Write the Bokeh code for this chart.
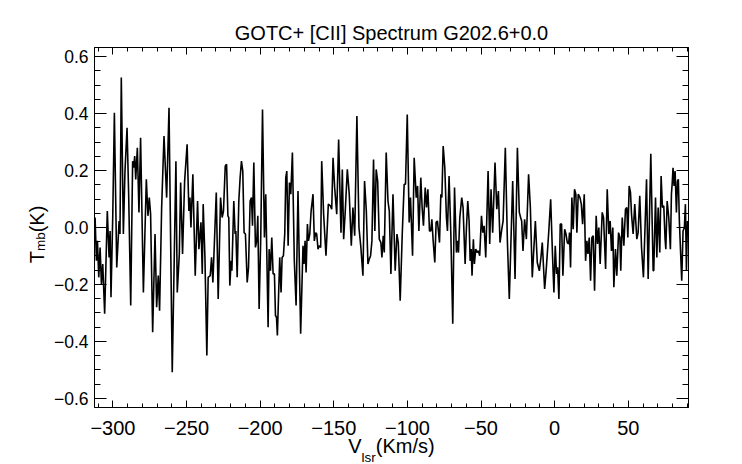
import numpy as np
from bokeh.plotting import figure
from bokeh.models import FixedTicker, Range1d, LinearAxis
from bokeh.embed import file_html
from bokeh.resources import INLINE

# ---- data ----
velocity = [
    -312.1, -311.2, -310.5, -309.6, -308.7, -307.8, -306.9, -305.6, -303.8, -302.6,
    -301.9, -301.3, -300.1, -299.0, -297.4, -295.8, -295.2, -294.3, -292.9, -291.8,
    -290.4, -289.3, -287.9, -286.6, -285.9, -285.2, -284.5, -283.4, -282.3, -281.2,
    -279.3, -277.3, -276.2, -275.3, -274.4, -273.0, -271.4, -270.3, -269.2, -268.3,
    -266.9, -265.3, -263.5, -261.9, -259.7, -257.2, -256.3, -254.9, -254.0, -252.7,
    -251.3, -249.6,
    -248.4, -247.7, -247.0, -245.7, -244.1, -242.5, -241.6, -240.2, -239.3, -238.7,
    -237.5, -236.2, -235.3, -233.9, -233.0, -232.1, -229.8, -228.5, -226.9, -225.8,
    -224.9, -223.7, -222.8, -221.9, -221.3, -220.6, -219.7, -219.2, -217.9, -217.0,
    -216.5, -215.6, -214.5, -213.6, -212.7, -211.8, -210.9, -210.0, -208.8, -207.9,
    -206.8, -205.9, -205.2,
    -204.3, -203.2, -202.3, -201.6, -200.7, -199.6, -198.4, -197.1, -196.2, -194.6,
    -193.9, -193.0, -192.1, -191.2, -190.3, -189.6, -188.9, -188.3, -187.4, -186.7,
    -185.8, -185.1, -184.2, -183.3, -182.6, -181.9, -181.0, -180.1, -179.2, -178.1,
    -176.8, -175.6, -174.3, -172.5, -170.9, -170.2, -169.5, -168.8, -167.9, -167.2,
    -166.3, -165.4, -164.1, -163.2, -162.3, -161.6, -160.7, -160.0, -158.9, -158.2,
    -156.9, -155.3, -153.7, -152.3, -151.4, -150.5, -149.4, -148.0, -146.7, -145.1,
    -144.2, -143.3, -142.2, -140.8, -139.5, -138.1, -137.0, -135.8, -134.3, -132.9,
    -131.6, -130.2, -129.1, -127.9, -126.8, -125.9, -125.0, -124.1, -123.0, -122.1,
    -121.2, -120.2, -119.1, -118.0, -117.3, -116.4, -115.7, -114.4,
    -113.2, -112.3, -111.2, -109.8, -108.3, -107.1, -106.2, -104.9, -103.5, -102.2,
    -101.3, -100.1, -98.8, -97.9, -96.5, -95.4, -94.0, -93.1, -92.2, -90.9,
    -90.0, -89.1, -87.9, -87.0, -86.1, -85.0, -84.1, -83.4, -82.5, -81.4,
    -80.5, -79.6, -78.2, -77.3, -76.6, -75.7, -74.6, -73.5, -72.8, -71.7,
    -70.5, -69.2, -68.0,
    -66.7, -66.0, -65.3, -64.4, -63.1, -62.2, -60.8, -59.9, -59.0, -58.1,
    -57.4, -56.7, -56.1, -55.2, -54.5, -53.6, -52.7, -51.8, -50.9, -49.7,
    -48.8, -47.9, -46.8, -45.2, -44.1, -43.2, -42.1, -40.5, -39.3, -38.2,
    -37.1, -35.9, -35.0, -33.5, -32.1, -30.8, -28.5, -26.9, -25.3, -24.0,
    -23.1, -22.4, -21.5, -20.4, -19.2, -17.7, -16.5, -15.2, -13.1, -11.8,
    -10.4, -9.3, -8.4, -6.8, -5.7, -4.1, -2.7, -1.4, -0.5, 0.4,
    1.3, 2.0, 2.9, 3.8, 4.7, 5.6, 6.8, 7.7, 8.6, 9.5,
    10.1, 10.8, 11.7, 12.6, 13.5, 14.4, 15.1, 16.0, 17.2, 18.1,
    19.0, 20.1, 21.0,
    21.9, 22.6, 23.5, 24.4, 25.3, 26.2, 27.1, 28.2, 29.1, 30.0,
    30.9, 32.3, 33.2, 34.6, 35.7, 36.8, 37.7, 38.6, 39.5, 40.2,
    41.3, 42.2, 43.4, 44.3, 44.9, 45.9, 47.0, 48.1, 49.0, 49.7,
    50.6, 51.5, 52.2, 53.3, 54.4, 55.8, 56.7,
    57.8, 59.0, 60.3, 62.4, 63.5, 65.3, 66.9, 67.3, 68.5, 69.4,
    70.3, 71.4, 72.3, 73.2, 74.1, 75.0, 75.5, 76.4, 77.5, 78.6,
    79.3, 79.8, 80.4, 81.1, 81.8, 82.7, 83.4, 84.0, 84.7, 85.4,
    86.3, 87.2, 88.1, 88.8, 89.5, 90.2,
]

tmb = [
    0.035, -0.117, -0.047, -0.175, -0.070, -0.198, -0.128, -0.303, 0.058, -0.105,
    -0.012, -0.245, 0.041, 0.403, -0.140, 0.023, -0.023, 0.527, -0.023, 0.198,
    0.350, 0.117, -0.274, 0.233, 0.210, 0.251, 0.169, 0.280, 0.053, 0.315,
    -0.228, 0.169, 0.041, 0.105, 0.047, -0.368, -0.023, -0.280, -0.169, -0.292,
    0.070, 0.321, 0.105, 0.420, -0.508, 0.233, -0.228, -0.093, 0.158, -0.093,
    0.163, 0.292,
    0.058, 0.105, 0.000, 0.187, -0.169, 0.093, -0.076, 0.018, -0.163, 0.082,
    -0.105, -0.449, -0.175, -0.169, -0.105, -0.193, 0.123, -0.251, 0.105, 0.035,
    0.058, 0.216, 0.222, 0.041, 0.035, -0.204, -0.117, -0.152, 0.093, -0.023,
    -0.012, -0.175, 0.093, 0.175, 0.233, 0.198, -0.018, -0.023, -0.193, -0.140,
    0.093, 0.105, 0.006,
    0.228, -0.070, -0.047, 0.041, -0.286, -0.035, 0.414, -0.035, 0.117, -0.350,
    -0.076, -0.152, -0.035, -0.163, -0.163, -0.309, -0.315, -0.379, -0.222, -0.105,
    -0.228, -0.105, -0.099, -0.023, 0.175, 0.198, -0.064, 0.158, 0.117, 0.263,
    -0.117, -0.274, 0.128, -0.373, -0.064, -0.128, -0.047, -0.158, 0.012, -0.047,
    -0.023, 0.058, 0.117, -0.047, -0.018, -0.023, -0.076, -0.064, -0.070, 0.233,
    0.047, -0.099, 0.082, 0.076, 0.064, 0.245, 0.140, 0.047, 0.309, -0.018,
    0.204, -0.041, 0.058, 0.204, 0.117, -0.064, 0.070, -0.029, 0.391, 0.000,
    -0.070, -0.169, 0.163, 0.058, -0.128, -0.111, -0.099, -0.047, 0.239, -0.012,
    0.204, 0.163, -0.041, -0.053, -0.105, -0.029, -0.088, 0.263,
    0.093, 0.058, -0.163, 0.117, -0.152, -0.023, -0.053, -0.257, -0.023, 0.152,
    0.152, 0.397, 0.018, 0.105, -0.099, 0.245, 0.105, 0.146, -0.012, 0.175,
    0.070, 0.006, 0.140, 0.070, 0.134, -0.012, -0.012, 0.029, -0.047, -0.123,
    0.018, 0.023, -0.053, 0.117, 0.105, 0.286, 0.210, 0.035, -0.012, 0.181,
    -0.023, -0.338, 0.140,
    -0.088, -0.047, -0.088, 0.035, 0.105, 0.070, -0.128, 0.000, 0.093, 0.023,
    -0.117, -0.076, -0.169, -0.041, -0.128, -0.076, -0.088, -0.082, -0.099, 0.041,
    -0.018, 0.006, -0.105, 0.198, -0.058, 0.134, -0.018, 0.228, 0.064, 0.128,
    -0.053, -0.006, 0.023, 0.280, -0.047, -0.251, 0.163, -0.181, 0.280, 0.053,
    0.035, 0.023, -0.082, 0.029, -0.041, 0.187, 0.070, -0.175, 0.023, -0.123,
    -0.152, -0.105, -0.053, -0.216, -0.146, -0.023, 0.099, -0.105, -0.228, -0.064,
    -0.163, -0.140, -0.251, 0.012, 0.012, -0.169, -0.006, -0.023, -0.053, -0.058,
    -0.018, -0.140, 0.105, -0.006, 0.134, 0.117, -0.018, 0.117, 0.105, 0.082,
    0.012, 0.117, -0.117,
    -0.047, -0.093, -0.035, -0.187, -0.035, -0.029, -0.222, 0.041, -0.058, 0.000,
    -0.128, 0.053, 0.035, -0.146, 0.134, -0.023, 0.023, -0.082, 0.000, -0.210,
    -0.076, -0.169, -0.018, -0.035, -0.152, 0.035, -0.064, 0.064, 0.070, -0.035,
    0.146, 0.123, 0.047, -0.023, 0.082, -0.041, -0.018,
    0.111, -0.070, -0.175, 0.169, -0.181, 0.259, -0.152, -0.152, 0.105, -0.105,
    0.070, -0.088, 0.181, 0.070, 0.076, -0.041, -0.076, 0.093, 0.035, -0.076,
    0.117, 0.152, 0.210, 0.146, 0.198, 0.053, 0.163, 0.169, 0.023, -0.070,
    -0.187, -0.012, 0.000, 0.082, -0.152, 0.023,
]

x_major = [-300, -250, -200, -150, -100, -50, 0, 50]
x_labels = ["\u2212300", "\u2212250", "\u2212200", "\u2212150", "\u2212100", "\u221250", "0", "50"]
x_minor = list(range(-310, 91, 10))
y_major = [-0.6, -0.4, -0.2, 0.0, 0.2, 0.4, 0.6]
y_labels = ["\u22120.6", "\u22120.4", "\u22120.2", "0.0", "0.2", "0.4", "0.6"]
y_minor = [round(v, 2) for v in np.arange(-0.6, 0.601, 0.05)]

title_text = "GOTC+ [CII] Spectrum G202.6+0.0"
xlabel_main = ["V", "(Km/s)"]
xlabel_sub = "lsr"
ylabel_main = ["T", "(K)"]
ylabel_sub = "mb"
FONT = "Liberation Sans"

# ---- layout (pixels of the picture) ----
W, H = 742, 464
FL, FT, FW, FH = 94, 47, 594, 360
X0, X1 = -312.5, 90.9
Y0, Y1 = -0.632, 0.632


def pix_x(xp):
    return round(X0 + (xp - FL) * (X1 - X0) / FW, 3)


def pix_y(yp):
    return round(Y1 - (yp - FT) * (Y1 - Y0) / FH, 4)


p = figure(frame_width=FW, frame_height=FH,
           x_range=Range1d(X0, X1), y_range=Range1d(Y0, Y1),
           output_backend="svg", toolbar_location=None,
           min_border_left=FL, min_border_right=W - FL - FW,
           min_border_top=FT, min_border_bottom=H - FT - FH,
           x_axis_location=None, y_axis_location=None)
p.xgrid.visible = False
p.ygrid.visible = False
p.outline_line_color = "black"
p.outline_line_width = 1
p.background_fill_color = "white"
p.border_fill_color = "white"

p.title.text = title_text
p.title.align = "center"
p.title.text_font = FONT
p.title.text_font_size = "20px"
p.title.text_font_style = "normal"
p.title.text_color = "black"
p.title.standoff = 8

p.line(velocity, tmb, line_color="black", line_width=1.6)


def style_axis(ax, major_len, minor_len, show_labels, standoff, size):
    ax.axis_line_color = "black"
    ax.axis_line_width = 1
    ax.major_tick_line_color = "black"
    ax.minor_tick_line_color = "black"
    ax.major_tick_in = major_len
    ax.major_tick_out = 0
    ax.minor_tick_in = minor_len
    ax.minor_tick_out = 0
    ax.major_label_text_font = FONT
    ax.major_label_text_font_size = size
    ax.major_label_text_color = "black" if show_labels else None
    ax.major_label_standoff = standoff


def label_axis(ticks, texts, size, standoff, vertical=False):
    ax = LinearAxis(ticker=FixedTicker(ticks=ticks, minor_ticks=[]),
                    major_label_overrides=dict(zip(ticks, texts)))
    ax.axis_line_color = None
    ax.major_tick_line_color = None
    ax.minor_tick_line_color = None
    ax.major_tick_in = 0
    ax.major_tick_out = 0
    ax.minor_tick_in = 0
    ax.minor_tick_out = 0
    ax.major_label_text_font = FONT
    ax.major_label_text_font_size = size
    ax.major_label_text_color = "black"
    ax.major_label_standoff = standoff
    if vertical:
        ax.major_label_orientation = "vertical"
    return ax


xb = LinearAxis(ticker=FixedTicker(ticks=x_major, minor_ticks=x_minor),
                major_label_overrides=dict(zip(x_major, x_labels)))
style_axis(xb, 7, 4, True, 13, "20px")
p.add_layout(xb, "below")

xt = LinearAxis(ticker=FixedTicker(ticks=x_major, minor_ticks=x_minor))
style_axis(xt, 7, 4, False, 0, "0px")
p.add_layout(xt, "above")

yl = LinearAxis(ticker=FixedTicker(ticks=y_major, minor_ticks=y_minor),
                major_label_overrides=dict(zip(y_major, y_labels)))
style_axis(yl, 12, 6, True, 6, "17.5px")
p.add_layout(yl, "left")

yr = LinearAxis(ticker=FixedTicker(ticks=y_major, minor_ticks=y_minor))
style_axis(yr, 12, 6, False, 0, "0px")
p.add_layout(yr, "right")

# ---- axis titles with subscripts, drawn as extra label-only axes ----
# x title: V_lsr(Km/s), centred under the frame
x_start = 347.8
p.add_layout(label_axis([pix_x(x_start + 6.7), pix_x(x_start + 27.5 + 29.4)],
                        xlabel_main, "20px", -3), "below")
p.add_layout(label_axis([pix_x(x_start + 13.3 + 7.1)], [xlabel_sub], "13.5px", -10), "below")

# y title: T_mb(K), reading upwards
y_bottom = 262.8
p.add_layout(label_axis([pix_y(y_bottom - 6.1), pix_y(y_bottom - 30.9 - 13.4)],
                        ylabel_main, "20px", 2, vertical=True), "left")
p.add_layout(label_axis([pix_y(y_bottom - 12.2 - 9.4)], [ylabel_sub], "13.5px", -25,
                        vertical=True), "left")

open("out.html", "w").write(file_html(p, INLINE))
